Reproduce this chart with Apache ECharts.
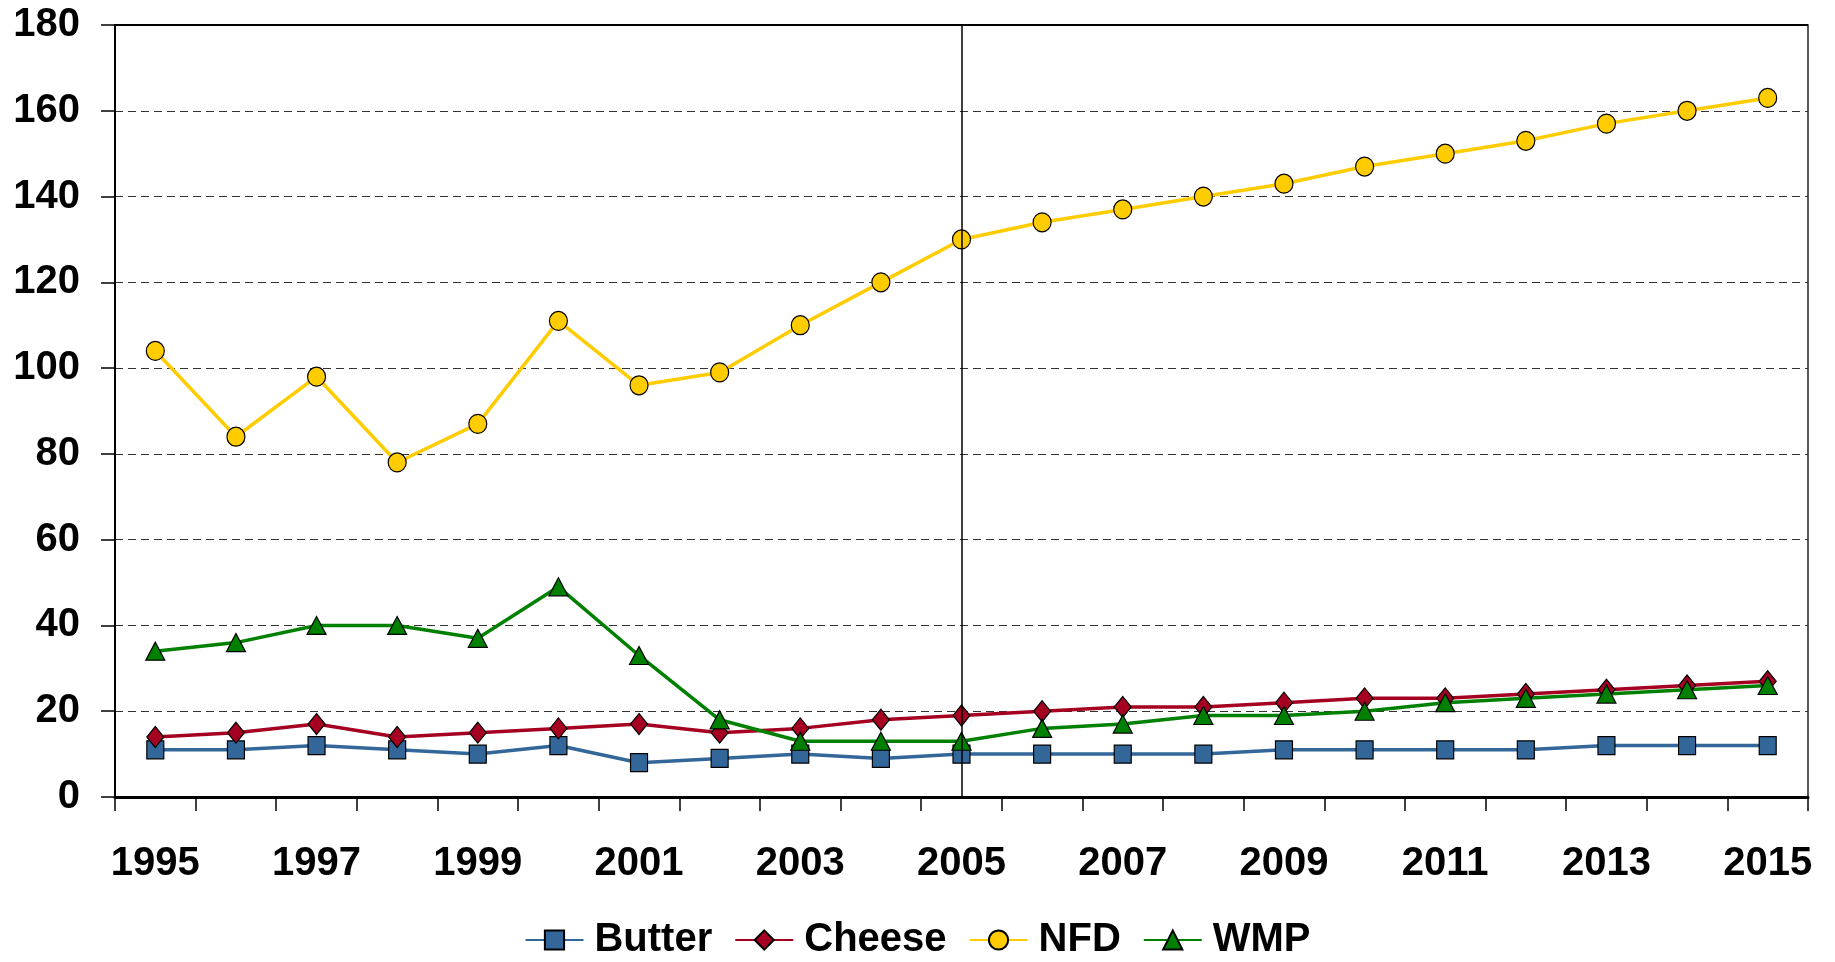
<!DOCTYPE html>
<html><head><meta charset="utf-8">
<script src="https://cdn.jsdelivr.net/npm/echarts@6/dist/echarts.min.js"></script>
<style>html,body{margin:0;padding:0;background:#fff}#c{width:1835px;height:962px}</style>
</head><body><div id="c"></div>
<script>
const years = ['1995','1996','1997','1998','1999','2000','2001','2002','2003','2004','2005','2006','2007','2008','2009','2010','2011','2012','2013','2014','2015'];
const butter = [11,11,12,11,10,12,8,9,10,9,10,10,10,10,11,11,11,11,12,12,12];
const cheese = [14,15,17,14,15,16,17,15,16,18,19,20,21,21,22,23,23,24,25,26,27];
const nfd = [104,84,98,78,87,111,96,99,110,120,130,134,137,140,143,147,150,153,157,160,163];
const wmp = [34,36,40,40,37,49,33,18,13,13,13,16,17,19,19,20,22,23,24,25,26];
const yTicks = {min:0, max:180, interval:20};

const font = 'Liberation Sans, Arial, sans-serif';
const chart = echarts.init(document.getElementById('c'));
function mk(name, data, color, symbol, size, extra){
  return Object.assign({
    name, type:'line', data, symbol, symbolSize:size,
    lineStyle:{color, width:3.5},
    itemStyle:{color, borderColor:'#000', borderWidth:1.2},
    z:3, animation:false
  }, extra||{});
}
chart.setOption({
  animation:false,
  textStyle:{fontFamily:font},
  grid:{left:115, right:27, top:25, bottom:165, show:true, borderColor:'#222', borderWidth:1.5},
  legend:{
    top:915, left:'center', itemWidth:58, itemHeight:24, itemGap:22,
    textStyle:{fontSize:40, fontWeight:'bold', color:'#000', fontFamily:font, padding:[0,0,0,6]},
    data:['Butter','Cheese','NFD','WMP']
  },
  xAxis:{
    type:'category', data:years, boundaryGap:true,
    axisLine:{lineStyle:{color:'#000', width:3}},
    axisTick:{show:true, length:14, interval:0, lineStyle:{color:'#000', width:1.5}},
    axisLabel:{interval:1, fontSize:40, fontWeight:'bold', color:'#000', margin:47, fontFamily:font},
    splitLine:{show:false}
  },
  yAxis:{
    type:'value', min:yTicks.min, max:yTicks.max, interval:yTicks.interval,
    axisLine:{show:true, lineStyle:{color:'#000', width:2}},
    axisTick:{show:true, length:14, lineStyle:{color:'#000', width:1.5}},
    axisLabel:{fontSize:40, fontWeight:'bold', color:'#000', margin:35, fontFamily:font},
    splitLine:{show:true, lineStyle:{color:'#333', type:[8,5], width:1.2}}
  },
  series:[
    mk('Butter', butter, '#336699', 'rect', [17,18], {
      markLine:{silent:true, symbol:'none', label:{show:false},
        lineStyle:{color:'#000', type:'solid', width:1.5},
        data:[{xAxis:'2005'}]}
    }),
    mk('Cheese', cheese, '#A50021', 'diamond', [17,21]),
    mk('NFD', nfd, '#FFCC00', 'circle', [18,19], {
      markLine:{silent:true, symbol:'none', label:{show:false},
        lineStyle:{color:'#000', type:'solid', width:2},
        data:[{yAxis:180}]}
    }),
    mk('WMP', wmp, '#008000', 'triangle', [19,18])
  ]
});
</script></body></html>
